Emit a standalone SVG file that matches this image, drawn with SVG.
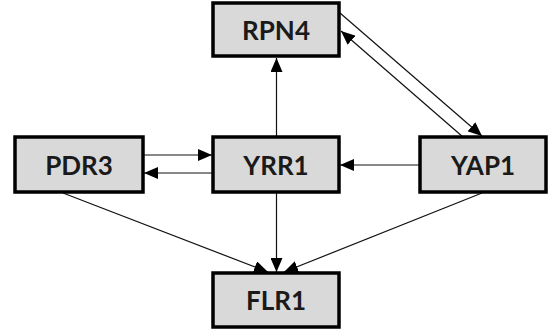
<svg xmlns="http://www.w3.org/2000/svg" width="550" height="331" viewBox="0 0 550 331">
<style>
.box{fill:#d9d9d9;stroke:#000;stroke-width:3.5}
.lbl{font-family:Lato,"Open Sans","Liberation Sans",sans-serif;font-weight:bold;font-size:26px;fill:#1a1a1a;text-anchor:middle;dominant-baseline:central}
.edge{stroke:#111;stroke-width:1.2;fill:none;marker-end:url(#ah)}
</style>
<defs>
<marker id="ah" markerUnits="userSpaceOnUse" markerWidth="14" markerHeight="12" viewBox="0 0 14 12" refX="14" refY="6" orient="auto">
<path d="M0,0 L14,6 L0,12 z" fill="#000"/>
</marker>
</defs>
<rect width="550" height="331" fill="#fff"/>
<g id="connectors">
<line class="edge" x1="276.5" y1="137" x2="276.5" y2="58"/>
<line class="edge" x1="340" y1="13" x2="482" y2="136"/>
<line class="edge" x1="463" y1="137" x2="341" y2="31"/>
<line class="edge" x1="144" y1="155" x2="212" y2="155"/>
<line class="edge" x1="212" y1="173" x2="144" y2="173"/>
<line class="edge" x1="420" y1="165" x2="340" y2="165"/>
<line class="edge" x1="63" y1="193" x2="268" y2="272"/>
<line class="edge" x1="276.5" y1="192" x2="276.5" y2="272"/>
<line class="edge" x1="482" y1="193" x2="284" y2="272"/>
</g>
<g id="RPN4"><rect class="box" x="213" y="3" width="126" height="53"/><text class="lbl" x="276" y="30">RPN4</text></g>
<g id="PDR3"><rect class="box" x="15" y="137" width="128" height="55"/><text class="lbl" x="79" y="165">PDR3</text></g>
<g id="YRR1"><rect class="box" x="213" y="137" width="126" height="55"/><text class="lbl" x="276" y="165">YRR1</text></g>
<g id="YAP1"><rect class="box" x="420" y="137" width="126" height="55"/><text class="lbl" x="483" y="165">YAP1</text></g>
<g id="FLR1"><rect class="box" x="213" y="273" width="126" height="54"/><text class="lbl" x="276" y="300">FLR1</text></g>
</svg>
